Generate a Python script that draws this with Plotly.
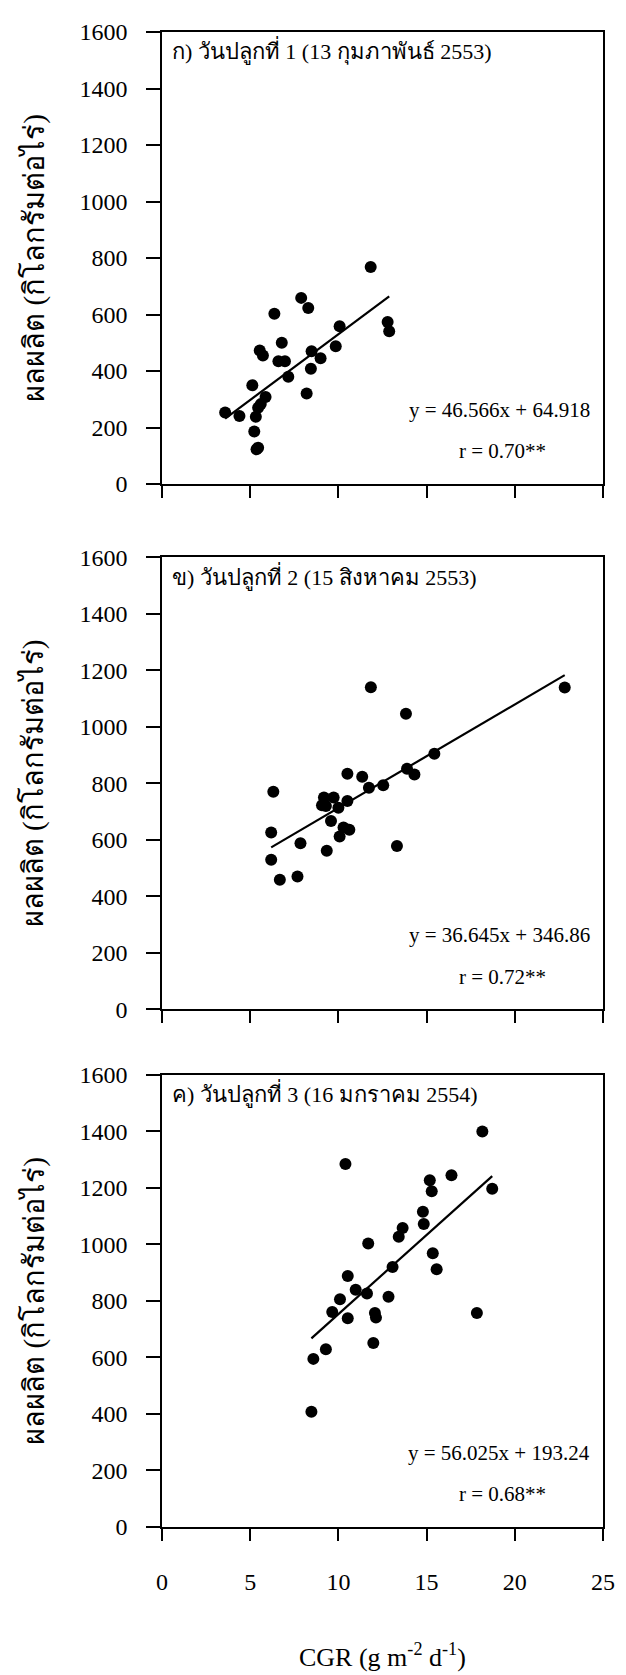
import plotly.graph_objects as go
from plotly.subplots import make_subplots

# Panel 1 - planting date 1
cgr_1 = [3.58, 4.39, 5.12, 5.23, 5.32, 5.45, 5.60, 5.36, 5.45, 5.87, 5.54, 5.72, 6.37, 6.79,
         6.60, 6.97, 7.16, 7.89, 8.29, 8.20, 8.48, 8.44, 8.99, 9.85, 10.07, 11.83, 12.79, 12.88]
yield_1 = [253, 241, 350, 186, 238, 270, 283, 123, 129, 308, 473, 455, 603, 500,
           435, 435, 380, 659, 623, 321, 470, 408, 445, 488, 559, 768, 574, 541]

# Panel 2 - planting date 2
cgr_2 = [6.19, 6.31, 6.19, 6.68, 7.68, 7.85, 9.07, 9.18, 9.29, 9.73, 9.34, 9.58, 10.0, 10.07,
         10.29, 10.62, 10.51, 10.51, 11.35, 11.73, 11.84, 12.54, 13.32, 13.83, 13.89, 14.31, 15.44, 22.83]
yield_2 = [626, 771, 530, 459, 471, 588, 723, 750, 720, 750, 562, 667, 714, 612,
           644, 636, 834, 738, 824, 785, 1141, 794, 579, 1047, 852, 832, 905, 1140]

# Panel 3 - planting date 3
cgr_3 = [8.47, 8.58, 9.29, 9.65, 10.09, 10.53, 10.53, 10.40, 10.98, 11.62, 11.69, 11.98, 12.07, 12.13,
         12.84, 13.07, 13.42, 13.64, 14.79, 14.84, 15.18, 15.29, 15.35, 15.57, 16.41, 17.85, 18.16, 18.72]
yield_3 = [408, 595, 629, 761, 806, 739, 888, 1285, 840, 826, 1003, 651, 757, 741,
           815, 920, 1027, 1058, 1116, 1072, 1227, 1188, 969, 912, 1245, 757, 1400, 1197]

slopes = [46.566, 36.645, 56.025]
intercepts = [64.918, 346.86, 193.24]
r_values = ["0.70", "0.72", "0.68"]
panel_labels = [
    "ก) วันปลูกที่ 1 (13 กุมภาพันธ์ 2553)",
    "ข) วันปลูกที่ 2 (15 สิงหาคม 2553)",
    "ค) วันปลูกที่ 3 (16 มกราคม 2554)",
]
x_ticks = [0, 5, 10, 15, 20, 25]
y_ticks = [0, 200, 400, 600, 800, 1000, 1200, 1400, 1600]
y_title = "ผลผลิต (กิโลกรัมต่อไร่)"

FONT = "Liberation Serif, Times New Roman, serif"

fig = make_subplots(rows=3, cols=1)

series = [(cgr_1, yield_1), (cgr_2, yield_2), (cgr_3, yield_3)]
domains = [[0.6976, 1.0], [0.3462, 0.6485], [0.0, 0.3024]]

for i, (xs, ys) in enumerate(series):
    row = i + 1
    fig.add_trace(go.Scatter(x=xs, y=ys, mode="markers",
                             marker=dict(color="black", size=12),
                             showlegend=False), row=row, col=1)
    x0, x1 = min(xs), max(xs)
    fig.add_trace(go.Scatter(x=[x0, x1],
                             y=[slopes[i] * x0 + intercepts[i], slopes[i] * x1 + intercepts[i]],
                             mode="lines", line=dict(color="black", width=2.2),
                             showlegend=False), row=row, col=1)

    sfx = "" if row == 1 else str(row)
    fig.update_layout({
        f"xaxis{sfx}": dict(
            domain=[0, 1], range=[0, 25], tickvals=x_ticks,
            showticklabels=(row == 3), ticks="outside", ticklen=12, tickwidth=1.5,
            tickcolor="black", showline=True, linecolor="black", linewidth=1.5,
            mirror=True, showgrid=False, zeroline=False,
            tickfont=dict(family=FONT, size=24, color="black"),
            ticklabelstandoff=20,
        ),
        f"yaxis{sfx}": dict(
            domain=domains[i], range=[0, 1600], tickvals=y_ticks,
            ticks="outside", ticklen=14, tickwidth=1.5, tickcolor="black",
            showline=True, linecolor="black", linewidth=1.5, mirror=True,
            showgrid=False, zeroline=False,
            tickfont=dict(family=FONT, size=24, color="black"),
            ticklabelstandoff=14,
        ),
    })

    xd = f"x{sfx} domain"
    yd = f"y{sfx} domain"
    fig.add_annotation(text=panel_labels[i], xref=xd, yref=yd, x=0.018, y=0.958,
                       xanchor="left", yanchor="middle", showarrow=False,
                       font=dict(family=FONT, size=22, color="black"))
    fig.add_annotation(text=f"y = {slopes[i]}x + {intercepts[i]}", xref=f"x{sfx}", yref=f"y{sfx}",
                       x=24.4, y=263, xanchor="right", yanchor="middle", showarrow=False,
                       font=dict(family=FONT, size=21, color="black"))
    fig.add_annotation(text=f"r = {r_values[i]}**", xref=f"x{sfx}", yref=f"y{sfx}",
                       x=19.3, y=116, xanchor="center", yanchor="middle", showarrow=False,
                       font=dict(family=FONT, size=21, color="black"))
    fig.add_annotation(text=y_title, xref="paper", yref=yd, x=-0.291, y=0.5,
                       xanchor="center", yanchor="middle", textangle=-90, showarrow=False,
                       font=dict(family=FONT, size=29, color="black"))

fig.add_annotation(text="CGR (g m<sup>-2</sup> d<sup>-1</sup>)", xref="paper", yref="paper",
                   x=0.5, y=-0.086, xanchor="center", yanchor="middle", showarrow=False,
                   font=dict(family=FONT, size=26, color="black"))

# the page body adds an 8 px offset, so the figure is sized to fit the window
fig.update_layout(
    width=618, height=1667,
    margin=dict(l=154, r=13, t=11, b=148),
    plot_bgcolor="white", paper_bgcolor="white",
    font=dict(family=FONT, color="black"),
)

fig.write_html("out.html")
